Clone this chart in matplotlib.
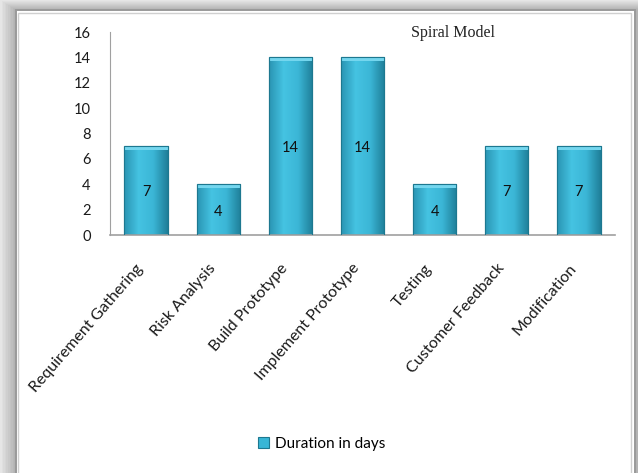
import matplotlib.pyplot as plt
import numpy as np
from matplotlib.patches import Rectangle
from matplotlib.colors import LinearSegmentedColormap

# data
phases = ["Requirement Gathering", "Risk Analysis", "Build Prototype",
          "Implement Prototype", "Testing", "Customer Feedback", "Modification"]
days = [7, 4, 14, 14, 4, 7, 7]

fig = plt.figure(figsize=(6.38, 4.73), dpi=100)
fig.patch.set_facecolor("#e4e4e4")

# soft shadow on the left and top of the white panel
for i, g in enumerate(np.linspace(0.90, 0.70, 10)):
    fig.patches.append(Rectangle((i * 1.6 / 638, 0), 1, 1 - i * 1.0 / 473, transform=fig.transFigure,
                                 facecolor=(g, g, g), edgecolor="none", zorder=-10 + i * 0.01))
fig.patches.append(Rectangle((16 / 638, -0.01), (635 - 16) / 638, (473 - 10) / 473 + 0.01,
                             transform=fig.transFigure, facecolor="white",
                             edgecolor="#9a9a9a", linewidth=1.4, zorder=-5))
fig.patches.append(Rectangle((18 / 638, -0.01), (631 - 18) / 638, (473 - 13) / 473 + 0.01,
                             transform=fig.transFigure, facecolor="none",
                             edgecolor="#d0d0d0", linewidth=1.0, zorder=-4))

ax = fig.add_axes([110 / 638, 1 - 235 / 473, (615 - 110) / 638, (235 - 32) / 473])
ax.set_facecolor("none")

x = np.arange(len(phases))
bars = ax.bar(x, days, width=0.6, color="#38b6d6", edgecolor="#1d7890", linewidth=0.8, zorder=2)

# gradient shading on each bar
cmap = LinearSegmentedColormap.from_list("bar", ["#2a95b3", "#45c3e2", "#3bb6d6", "#1f7f99"])
grad = np.linspace(0, 1, 64).reshape(1, -1)
for b in bars:
    x0, y0 = b.get_x(), b.get_y()
    w, h = b.get_width(), b.get_height()
    im = ax.imshow(grad, cmap=cmap, aspect="auto", extent=(x0, x0 + w, y0, y0 + h), zorder=2.5)
    im.set_clip_path(b)
    ax.add_patch(Rectangle((x0, y0 + h - 0.3), w, 0.3, facecolor="#74d6ee",
                           edgecolor="none", zorder=2.6))
    ax.add_patch(Rectangle((x0, y0), w, h, facecolor="none", edgecolor="#1d7890",
                           linewidth=0.8, zorder=2.7))
    ax.text(x0 + w / 2, y0 + h / 2 - 0.15, str(int(h)), ha="center", va="center",
            fontsize=10.5, family="Lato", color="#111111", zorder=3)

ax.set_xlim(-0.5, len(phases) - 0.5)
ax.set_ylim(0, 16)
ax.set_yticks(range(0, 17, 2))
ax.set_yticklabels([str(v) for v in range(0, 17, 2)], fontsize=10.5, family="Lato", color="#1a1a1a")
ax.tick_params(axis="y", length=0, pad=14)
ax.tick_params(axis="x", length=0, pad=19)
ax.set_xticks(x)
ax.set_xticklabels(phases, rotation=49, ha="right",
                   fontsize=11.5, family="Lato", color="#1a1a1a")
for s in ["top", "right"]:
    ax.spines[s].set_visible(False)
ax.spines["left"].set_color("#a0a0a0")
ax.spines["bottom"].set_color("#a0a0a0")
ax.spines["bottom"].set_linewidth(1.2)

fig.text(453 / 638, 1 - 33 / 473, "Spiral Model", ha="center", va="center",
         fontsize=11.5, family="Liberation Serif", color="#222222")

# legend
leg = ax.legend([bars[0]], ["Duration in days"], loc="center", bbox_to_anchor=(322 / 638, 1 - 444 / 473),
                bbox_transform=fig.transFigure, frameon=False, handlelength=0.7, handleheight=0.7,
                handletextpad=0.4, prop={"family": "Lato", "size": 11})

fig.savefig("out.png", dpi=100)
